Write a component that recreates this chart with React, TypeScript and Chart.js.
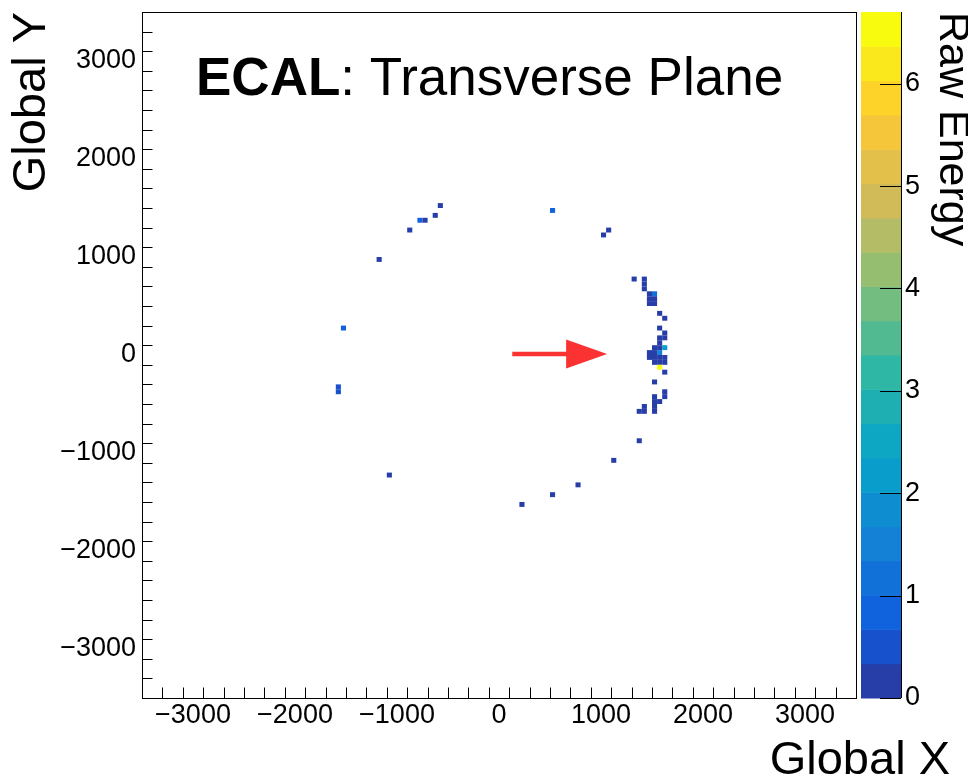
import React, { useEffect, useRef } from "react";
import { Chart, registerables } from "chart.js";

Chart.register(...registerables);

// ---- data: calorimeter hits (bin centres, 50-unit bins) ----
const hitX = [
  -575, -625, -775, -725, -875, -1175, 525, 1075, 1025,
  -1525, -1575, -1575, -1075, 225, 525, 775, 1125, 1375, 1325,
  1425, 1425, 1425, 1475, 1525, 1475, 1525, 1475, 1525,
  1575, 1625, 1575, 1625, 1575, 1625, 1575,
  1525, 1575, 1625,
  1475, 1525, 1575,
  1475, 1525, 1575, 1625,
  1525, 1575, 1625,
  1575, 1625,
  1525, 1625, 1625, 1575, 1525, 1525, 1525, 1525,
  1375, 1425, 1425,
];
const hitY = [
  1525, 1425, 1375, 1375, 1275, 975, 1475, 1275, 1225,
  275, -325, -375, -1225, -1525, -1425, -1325, -1075, -875, 775,
  775, 725, 675, 625, 625, 575, 575, 525, 525,
  425, 375, 275, 225, 175, 175, 125,
  75, 75, 75,
  25, 25, 25,
  -25, -25, -25, -25,
  -75, -75, -75,
  -125, -175,
  -275, -375, -425, -475, -425, -475, -525, -575,
  -575, -575, -525,
];
const hitE = [
  0.2, 0.2, 0.9, 0.3, 0.2, 0.2, 1.0, 0.2, 0.2,
  0.9, 0.6, 0.6, 0.2, 0.2, 0.2, 0.2, 0.2, 0.2, 0.2,
  0.2, 0.2, 0.2, 0.2, 1.1, 0.2, 0.2, 0.2, 0.2,
  0.2, 0.2, 0.2, 0.2, 0.2, 0.2, 0.2,
  0.2, 0.2, 2.3,
  0.2, 0.2, 1.5,
  0.2, 0.2, 0.2, 0.2,
  0.2, 0.2, 0.2,
  6.6, 0.2,
  0.2, 0.2, 0.2, 0.2, 0.2, 0.2, 0.2, 0.2,
  0.2, 0.2, 0.2,
];

const binSize = 50;
const axisMin = -3500;
const axisMax = 3500;
const xTicks = [-3000, -2000, -1000, 0, 1000, 2000, 3000];
const yTicks = [-3000, -2000, -1000, 0, 1000, 2000, 3000];
const minorStep = 200;
const zTicks = [0, 1, 2, 3, 4, 5, 6];
const zMax = 6.7;
const nContours = 20;

const arrowStart = [130, 10];
const arrowEnd = [1060, 10];

const titleBold = "ECAL";
const titleRest = ": Transverse Plane";
const xTitle = "Global X";
const yTitle = "Global Y";
const zTitle = "Raw Energy";

// ROOT kBird palette stops
const birdStops = [0.0, 0.125, 0.25, 0.375, 0.5, 0.625, 0.75, 0.875, 1.0];
const birdRed = [0.2082, 0.0592, 0.078, 0.0232, 0.1802, 0.5301, 0.8186, 0.9956, 0.9764];
const birdGreen = [0.1664, 0.3599, 0.5041, 0.6419, 0.7178, 0.7492, 0.7328, 0.7862, 0.9832];
const birdBlue = [0.5293, 0.8684, 0.8385, 0.7914, 0.6425, 0.4662, 0.3499, 0.1968, 0.0539];

const FONT = "'Liberation Sans', Arial, Helvetica, sans-serif";

function bird(t: number): string {
  t = Math.max(0, Math.min(1, t));
  let k = 0;
  while (k < birdStops.length - 2 && t > birdStops[k + 1]) k++;
  const f = (t - birdStops[k]) / (birdStops[k + 1] - birdStops[k]);
  const c = (a: number[]) => Math.round(255 * (a[k] + (a[k + 1] - a[k]) * f));
  return `rgb(${c(birdRed)},${c(birdGreen)},${c(birdBlue)})`;
}

function bandColor(i: number): string {
  const idx = Math.floor(((i + 0.99) * 255) / nContours);
  return bird(idx / 254);
}

function fmt(v: number | string): string {
  const n = Number(v);
  return n < 0 ? "\u2212" + Math.abs(n) : String(n);
}

function noPad(s: any) {
  s.paddingTop = 0;
  s.paddingBottom = 0;
  s.paddingLeft = 0;
  s.paddingRight = 0;
}

const rootPlugin = {
  id: "rootStyle",
  beforeDraw(chart: any) {
    const { ctx, width, height } = chart;
    ctx.save();
    ctx.fillStyle = "#ffffff";
    ctx.fillRect(0, 0, width, height);
    ctx.restore();
  },
  afterDatasetsDraw(chart: any) {
    const { ctx, chartArea: ca, scales } = chart;
    const xs = scales.x;
    const ys = scales.y;
    const zs = scales.energy;
    const half = binSize / 2;

    // cells
    ctx.save();
    ctx.beginPath();
    ctx.rect(ca.left, ca.top, ca.right - ca.left, ca.bottom - ca.top);
    ctx.clip();
    for (let i = 0; i < hitX.length; i++) {
      const x0 = xs.getPixelForValue(hitX[i] - half);
      const x1 = xs.getPixelForValue(hitX[i] + half);
      const y0 = ys.getPixelForValue(hitY[i] + half);
      const y1 = ys.getPixelForValue(hitY[i] - half);
      const band = Math.min(nContours - 1, Math.floor((hitE[i] / zMax) * nContours));
      ctx.fillStyle = bandColor(band);
      ctx.fillRect(x0, y0, x1 - x0, y1 - y0);
    }
    ctx.restore();

    // arrow
    const ax0 = xs.getPixelForValue(arrowStart[0]);
    const ay0 = ys.getPixelForValue(arrowStart[1]);
    const ax1 = xs.getPixelForValue(arrowEnd[0]);
    const ay1 = ys.getPixelForValue(arrowEnd[1]);
    const headLen = 41;
    const headHalf = 14.5;
    ctx.save();
    ctx.strokeStyle = "#fb3232";
    ctx.fillStyle = "#fb3232";
    ctx.lineWidth = 4.3;
    ctx.beginPath();
    ctx.moveTo(ax0, ay0);
    ctx.lineTo(ax1 - headLen + 2, ay1);
    ctx.stroke();
    ctx.beginPath();
    ctx.moveTo(ax1, ay1);
    ctx.lineTo(ax1 - headLen, ay1 - headHalf);
    ctx.lineTo(ax1 - headLen, ay1 + headHalf);
    ctx.closePath();
    ctx.fill();
    ctx.restore();

    // frame
    ctx.save();
    ctx.strokeStyle = "#000";
    ctx.lineWidth = 1;
    ctx.strokeRect(
      Math.round(ca.left) + 0.5,
      Math.round(ca.top) + 0.5,
      Math.round(ca.right - ca.left),
      Math.round(ca.bottom - ca.top)
    );

    // inward ticks
    const majorLen = 21;
    const minorLen = 10.5;
    ctx.beginPath();
    for (let v = axisMin + minorStep; v < axisMax; v += minorStep) {
      const isMajorX = xTicks.indexOf(v) >= 0;
      const px = Math.round(xs.getPixelForValue(v)) + 0.5;
      ctx.moveTo(px, ca.bottom);
      ctx.lineTo(px, ca.bottom - (isMajorX ? majorLen : minorLen));
      const isMajorY = yTicks.indexOf(v) >= 0;
      const py = Math.round(ys.getPixelForValue(v)) + 0.5;
      ctx.moveTo(ca.left, py);
      ctx.lineTo(ca.left + (isMajorY ? majorLen : minorLen), py);
    }
    ctx.stroke();
    ctx.restore();

    // colour bar
    const barL = ca.right + 5;
    const barR = ca.right + 45;
    ctx.save();
    for (let i = 0; i < nContours; i++) {
      const yb = zs.getPixelForValue((i * zMax) / nContours);
      const yt = zs.getPixelForValue(((i + 1) * zMax) / nContours);
      ctx.fillStyle = bandColor(i);
      ctx.fillRect(barL, yt, barR - barL, yb - yt + 0.5);
    }
    ctx.strokeStyle = "#000";
    ctx.lineWidth = 1;
    ctx.beginPath();
    ctx.moveTo(Math.round(barR) + 0.5, zs.top);
    ctx.lineTo(Math.round(barR) + 0.5, zs.bottom);
    for (const v of zTicks) {
      const py = Math.round(zs.getPixelForValue(v)) + 0.5;
      ctx.moveTo(barR - 21, py);
      ctx.lineTo(barR, py);
    }
    ctx.stroke();
    ctx.restore();

    // title inside plot
    ctx.save();
    ctx.fillStyle = "#000";
    ctx.textBaseline = "alphabetic";
    const tx = ca.left + 54;
    const ty = ca.top + 83;
    ctx.font = `bold 53px ${FONT}`;
    ctx.fillText(titleBold, tx, ty);
    const w = ctx.measureText(titleBold).width;
    ctx.font = `53px ${FONT}`;
    ctx.fillText(titleRest, tx + w, ty);

    // x title
    ctx.font = `47px ${FONT}`;
    ctx.textAlign = "right";
    ctx.fillText(xTitle, chart.width - 18, chart.height - 4);
    ctx.restore();
  },
};

export default function App() {
  const ref = useRef<HTMLCanvasElement | null>(null);

  useEffect(() => {
    if (!ref.current) return;
    const chart = new Chart(ref.current, {
      type: "scatter",
      data: {
        datasets: [
          {
            label: "hits",
            data: hitX.map((x, i) => ({ x, y: hitY[i] })),
            pointRadius: 0,
            pointHoverRadius: 0,
            showLine: false,
          },
        ],
      },
      options: {
        animation: false,
        responsive: false,
        devicePixelRatio: 1,
        events: [],
        layout: { padding: { top: 12, left: 0, right: 0, bottom: 0 } },
        plugins: {
          legend: { display: false },
          tooltip: { enabled: false },
          title: { display: false },
        },
        scales: {
          x: {
            type: "linear",
            position: "bottom",
            min: axisMin,
            max: axisMax,
            grid: { display: false, drawTicks: false },
            border: { display: false },
            afterBuildTicks: (s: any) => {
              s.ticks = xTicks.map((v) => ({ value: v }));
            },
            afterFit: (s: any) => {
              s.height = 80;
              noPad(s);
            },
            ticks: {
              autoSkip: false,
              maxRotation: 0,
              padding: 1,
              color: "#000",
              font: { family: FONT, size: 27 },
              callback: (v: any) => fmt(v),
            },
          },
          y: {
            type: "linear",
            position: "left",
            min: axisMin,
            max: axisMax,
            grid: { display: false, drawTicks: false },
            border: { display: false },
            afterBuildTicks: (s: any) => {
              s.ticks = yTicks.map((v) => ({ value: v }));
            },
            afterFit: (s: any) => {
              s.width = 142;
              noPad(s);
            },
            ticks: {
              autoSkip: false,
              padding: 6,
              color: "#000",
              font: { family: FONT, size: 27 },
              callback: (v: any) => fmt(v),
            },
            title: {
              display: true,
              text: yTitle,
              align: "end",
              color: "#000",
              font: { family: FONT, size: 47 },
              padding: { top: 4, bottom: 0 },
            },
          },
          energy: {
            type: "linear",
            axis: "y",
            position: "right",
            min: 0,
            max: zMax,
            grid: { display: false, drawTicks: false },
            border: { display: false },
            afterBuildTicks: (s: any) => {
              s.ticks = zTicks.map((v) => ({ value: v }));
            },
            afterFit: (s: any) => {
              s.width = 112;
              noPad(s);
            },
            ticks: {
              autoSkip: false,
              padding: 49,
              color: "#000",
              font: { family: FONT, size: 27 },
              callback: (v: any) => fmt(v),
            },
            title: {
              display: true,
              text: zTitle,
              align: "end",
              color: "#000",
              font: { family: FONT, size: 43, lineHeight: 0.75 },
              padding: { top: 0, bottom: 0 },
            },
          },
        },
      } as any,
      plugins: [rootPlugin],
    });
    return () => chart.destroy();
  }, []);

  return (
    <div style={{ position: "absolute", left: 0, top: 0, width: 968, height: 778 }}>
      <canvas ref={ref} width={968} height={778} style={{ width: 968, height: 778 }} />
    </div>
  );
}
